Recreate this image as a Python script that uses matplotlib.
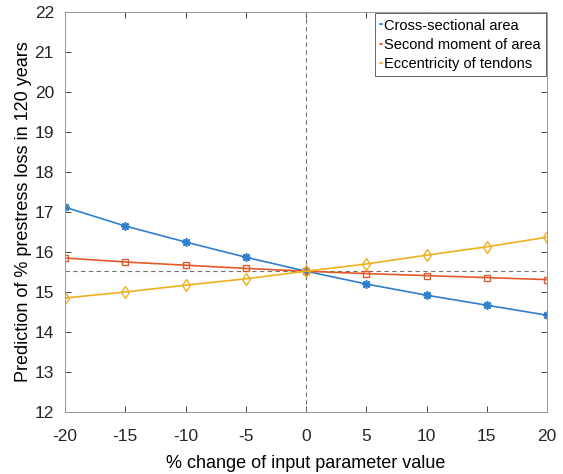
import numpy as np
import matplotlib.pyplot as plt

plt.rcParams['font.family'] = ['Liberation Sans', 'DejaVu Sans']
plt.rcParams['axes.unicode_minus'] = False

# % change of input parameter
change = [-20, -15, -10, -5, 0, 5, 10, 15, 20]
# prediction of % prestress loss in 120 years
area = [17.12, 16.65, 16.25, 15.87, 15.52, 15.20, 14.92, 14.67, 14.42]
moment = [15.85, 15.75, 15.67, 15.59, 15.52, 15.46, 15.41, 15.36, 15.31]
ecc = [14.85, 15.00, 15.17, 15.33, 15.52, 15.70, 15.92, 16.13, 16.37]
baseline = 15.52

fig = plt.figure(figsize=(5.63, 4.74), dpi=100)
ax = fig.add_axes([65/563, 1 - 412/474, (547-65)/563, 400/474])

ax.axhline(baseline, color='0.45', linestyle='--', linewidth=0.8, dashes=(4, 3))
ax.axvline(0, color='0.45', linestyle='--', linewidth=0.8, dashes=(4, 3))

ax.plot(change, area, '-', marker=(8, 2, 0), color='#2f7fd0', linewidth=1.2,
        markersize=6, markeredgewidth=1.2, label='Cross-sectional area')
ax.plot(change, moment, '-s', color='#e05a28', linewidth=1.2, markersize=5,
        markerfacecolor='none', label='Second moment of area')
ax.plot(change, ecc, '-d', color='#edb120', linewidth=1.2, markersize=6,
        markerfacecolor='none', label='Eccentricity of tendons')

ax.set_xlim(-20, 20)
ax.set_ylim(12, 22)
ax.set_xticks(np.arange(-20, 21, 5))
ax.set_yticks(np.arange(12, 23, 1))
ax.tick_params(direction='in', top=True, right=True, labelsize=12.5, colors='0.15',
               length=4, width=0.6)
ax.tick_params(axis='x', pad=12)
ax.tick_params(axis='y', pad=8)
for s in ax.spines.values():
    s.set_color('0.6')
    s.set_linewidth(0.7)

ax.set_xlabel('% change of input parameter value', fontsize=13, labelpad=8)
ax.set_ylabel('Prediction of % prestress loss in 120 years', fontsize=13, labelpad=2)

leg = ax.legend(loc='upper right', fontsize=10.5, handlelength=0.15, handletextpad=0.1,
                borderpad=0.35, labelspacing=0.35, fancybox=False, framealpha=1,
                borderaxespad=0.1, markerscale=0.01)
leg.get_frame().set_edgecolor('0.4')
leg.get_frame().set_linewidth(0.7)

fig.savefig('out.png', dpi=100)
